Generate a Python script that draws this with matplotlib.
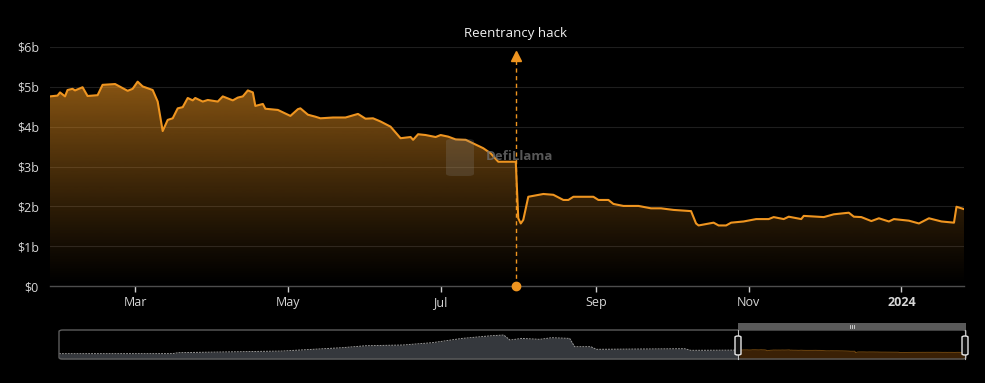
import numpy as np
import pandas as pd
import matplotlib
matplotlib.use("Agg")
import matplotlib.pyplot as plt
import matplotlib.dates as mdates
from matplotlib.patches import Polygon, FancyBboxPatch, Rectangle

# TVL of the last year (billions of USD)
tvl_dates = [
    "2023-01-26", "2023-01-29", "2023-01-30", "2023-02-01", "2023-02-02", "2023-02-04",
    "2023-02-05", "2023-02-08", "2023-02-10", "2023-02-14", "2023-02-16", "2023-02-21",
    "2023-02-26", "2023-02-28", "2023-03-02", "2023-03-04", "2023-03-08", "2023-03-10",
    "2023-03-12", "2023-03-14", "2023-03-16", "2023-03-18", "2023-03-20", "2023-03-22",
    "2023-03-24", "2023-03-25", "2023-03-28", "2023-03-30", "2023-04-03", "2023-04-05",
    "2023-04-09", "2023-04-11", "2023-04-13", "2023-04-15", "2023-04-17", "2023-04-18",
    "2023-04-21", "2023-04-22", "2023-04-27", "2023-04-29", "2023-05-02", "2023-05-05",
    "2023-05-06", "2023-05-09", "2023-05-12", "2023-05-14", "2023-05-19", "2023-05-24",
    "2023-05-29", "2023-06-01", "2023-06-04", "2023-06-07", "2023-06-11", "2023-06-15",
    "2023-06-19", "2023-06-20", "2023-06-22", "2023-06-25", "2023-06-29", "2023-07-01",
    "2023-07-04", "2023-07-07", "2023-07-11", "2023-07-14", "2023-07-18", "2023-07-21",
    "2023-07-24", "2023-07-31", "2023-08-01", "2023-08-02", "2023-08-03", "2023-08-05",
    "2023-08-11", "2023-08-15", "2023-08-19", "2023-08-21", "2023-08-23", "2023-08-31",
    "2023-09-02", "2023-09-06", "2023-09-08", "2023-09-12", "2023-09-18", "2023-09-23",
    "2023-09-27", "2023-10-02", "2023-10-09", "2023-10-11", "2023-10-12", "2023-10-18",
    "2023-10-20", "2023-10-23", "2023-10-25", "2023-10-30", "2023-11-04", "2023-11-09",
    "2023-11-11", "2023-11-15", "2023-11-17", "2023-11-22", "2023-11-23", "2023-12-01",
    "2023-12-05", "2023-12-11", "2023-12-13", "2023-12-16", "2023-12-20", "2023-12-23",
    "2023-12-27", "2023-12-29", "2024-01-04", "2024-01-08", "2024-01-12", "2024-01-17",
    "2024-01-22", "2024-01-23", "2024-01-26",
]
tvl_values = [
    4.76, 4.78, 4.86, 4.76, 4.92, 4.95,
    4.91, 4.99, 4.77, 4.79, 5.05, 5.07,
    4.90, 4.95, 5.13, 5.01, 4.92, 4.63,
    3.89, 4.17, 4.21, 4.46, 4.49, 4.72,
    4.66, 4.72, 4.63, 4.67, 4.63, 4.76,
    4.66, 4.73, 4.76, 4.91, 4.86, 4.52,
    4.57, 4.45, 4.42, 4.36, 4.27, 4.44,
    4.46, 4.30, 4.25, 4.21, 4.23, 4.23,
    4.32, 4.20, 4.21, 4.13, 4.00, 3.71,
    3.74, 3.67, 3.81, 3.79, 3.74, 3.79,
    3.75, 3.68, 3.67, 3.58, 3.46, 3.33,
    3.12, 3.12, 1.70, 1.57, 1.66, 2.24,
    2.31, 2.29, 2.16, 2.16, 2.24, 2.24,
    2.16, 2.16, 2.06, 2.01, 2.01, 1.95,
    1.95, 1.91, 1.88, 1.57, 1.52, 1.59,
    1.52, 1.52, 1.59, 1.62, 1.68, 1.68,
    1.73, 1.68, 1.74, 1.68, 1.76, 1.73,
    1.80, 1.84, 1.74, 1.73, 1.63, 1.70,
    1.62, 1.68, 1.64, 1.57, 1.70, 1.62,
    1.59, 1.99, 1.93,
]

# older history shown only in the zoom slider
history_dates = [
    "2020-01-27", "2020-07-28", "2020-08-06", "2021-01-20", "2021-04-27", "2021-06-04",
    "2021-08-02", "2021-09-19", "2021-11-06", "2021-12-24", "2022-01-12", "2022-01-22",
    "2022-02-10", "2022-03-11", "2022-03-30", "2022-04-28", "2022-05-06", "2022-06-01",
    "2022-06-10", "2022-10-30", "2022-11-09", "2023-01-25",
]
history_values = [
    0.05, 0.1, 1.3, 3.4, 7.7, 10.2,
    11.1, 14.1, 19.6, 23.1, 23.9, 17.5,
    19.6, 18.4, 20.5, 19.6, 9.0, 9.0,
    5.6, 6.4, 4.3, 4.6,
]

hack_date = "2023-07-31"
hack_label = "Reentrancy hack"

y_ticks = [0, 1, 2, 3, 4, 5, 6]
y_labels = ["$0", "$1b", "$2b", "$3b", "$4b", "$5b", "$6b"]
x_ticks = ["2023-03-01", "2023-05-01", "2023-07-01", "2023-09-01", "2023-11-01", "2024-01-01"]
x_labels = ["Mar", "May", "Jul", "Sep", "Nov", "2024"]

plt.rcParams['font.family'] = ['Open Sans', 'DejaVu Sans']

orange = '#ef9520'
bg = '#000000'
W, H = 985, 383

fig = plt.figure(figsize=(W / 100, H / 100), dpi=100, facecolor=bg)

# main axes placed in pixel coordinates
ax = fig.add_axes([50 / W, 1 - 286 / H, (964 - 50) / W, (286 - 47) / H], facecolor=bg)

d = pd.to_datetime(tvl_dates)
xs = mdates.date2num(d)
v = np.array(tvl_values)

ax.set_xlim(xs[0], xs[-1])
ax.set_ylim(0, 6)

# gradient fill under the line
grad = np.zeros((256, 1, 4))
grad[:, :, :3] = matplotlib.colors.to_rgb(orange)
grad[:, 0, 3] = np.linspace(0.62, 0.0, 256) ** 1.15
im = ax.imshow(grad, extent=[xs[0], xs[-1], 0, 5.15], aspect='auto', origin='upper', zorder=1)
verts = [(xs[0], 0)] + list(zip(xs, v)) + [(xs[-1], 0)]
clip = Polygon(verts, closed=True, facecolor='none', edgecolor='none', transform=ax.transData)
ax.add_patch(clip)
im.set_clip_path(clip)

ax.plot(xs, v, color=orange, lw=1.5, zorder=3, solid_joinstyle='round')

# grid and axes styling
for t in y_ticks[1:]:
    ax.axhline(t, color='#1e1e1e', lw=0.8, zorder=0)
for s in ['top', 'right', 'left']:
    ax.spines[s].set_visible(False)
ax.spines['bottom'].set_color('#4d4d4d')
ax.spines['bottom'].set_linewidth(1)

ax.set_yticks(y_ticks)
ax.set_yticklabels(y_labels)
ax.tick_params(axis='y', length=0, pad=8, labelsize=9, labelcolor='#d6d6d6')

ax.set_xticks(mdates.date2num(pd.to_datetime(x_ticks)))
ax.set_xticklabels(x_labels)
ax.tick_params(axis='x', length=4, width=1, color='#cfcfcf', pad=3, labelsize=9,
               labelcolor='#d6d6d6')
ax.get_xticklabels()[-1].set_fontweight('bold')

# hack annotation
hx = mdates.date2num(pd.Timestamp(hack_date))
ax.vlines(hx, 0, 5.7, colors=orange, linestyles=(0, (3, 2.5)), lw=1, zorder=4)
ax.plot(hx, 5.78, marker='^', ms=7.5, color=orange, zorder=5, clip_on=False)
ax.plot(hx, 0, marker='o', ms=6, color=orange, zorder=6, clip_on=False)
ax.annotate(hack_label, xy=(hx, 1), xycoords=('data', 'axes fraction'),
            xytext=(0, 13), textcoords='offset pixels', ha='center', va='center',
            fontsize=9.5, color='#f2f2f2')

# watermark
fig.patches.append(FancyBboxPatch((446 / W, 1 - 176 / H), 28 / W, 37 / H,
                                  boxstyle='round,pad=0,rounding_size=0.006',
                                  transform=fig.transFigure, facecolor='#8a8a8a',
                                  edgecolor='none', alpha=0.22, zorder=5))
fig.text(486 / W, 1 - 157 / H, "DefiLlama", fontsize=9.5, fontweight='bold',
         color='#6e6e6e', alpha=0.8, ha='left', va='center', zorder=6)

# zoom slider
bx0, bx1, by0, by1 = 59, 966, 330, 359
sl = fig.add_axes([bx0 / W, 1 - by1 / H, (bx1 - bx0) / W, (by1 - by0) / H])
sl.set_facecolor('none')
sl.axis('off')
hd = mdates.date2num(pd.to_datetime(history_dates))
hv = np.array(history_values)
sl.set_xlim(hd[0], xs[-1])
sl.set_ylim(-6.8, 30.4)
sl.fill_between(hd, hv, -6.8, color='#35383d', lw=0)
sl.plot(hd, hv, color='#9a9a9a', lw=0.7, ls=(0, (2, 1)))
sl.fill_between(xs, v, -6.8, color='#3a2005', lw=0)
sl.plot(xs, v, color=orange, lw=0.7, alpha=0.45)

fig.patches.append(FancyBboxPatch((bx0 / W, 1 - by1 / H), (bx1 - bx0) / W, (by1 - by0) / H,
                                  boxstyle='round,pad=0,rounding_size=0.004',
                                  transform=fig.transFigure, facecolor='none',
                                  edgecolor='#5c5c5c', lw=1, zorder=5))
# selection bar on top
fig.patches.append(Rectangle((738 / W, 1 - 330 / H), (966 - 738) / W, 7 / H,
                             transform=fig.transFigure, facecolor='#5a5a5a',
                             edgecolor='none', zorder=5))
for k in (-2, 0, 2):
    fig.lines.append(plt.Line2D([(852 + k) / W] * 2, [1 - 328 / H, 1 - 325 / H],
                                transform=fig.transFigure, color='#dddddd', lw=0.6, zorder=6))
for hxp in [738, 965]:
    fig.lines.append(plt.Line2D([hxp / W, hxp / W], [1 - 359 / H, 1 - 330 / H],
                                transform=fig.transFigure, color='#bdbdbd', lw=0.8, zorder=6))
    fig.patches.append(FancyBboxPatch(((hxp - 3) / W, 1 - 355 / H), 6 / W, 19 / H,
                                      boxstyle='round,pad=0,rounding_size=0.003',
                                      transform=fig.transFigure, facecolor='#111111',
                                      edgecolor='#e6e6e6', lw=1, zorder=7))

fig.savefig("out.png", dpi=100, facecolor=bg)
